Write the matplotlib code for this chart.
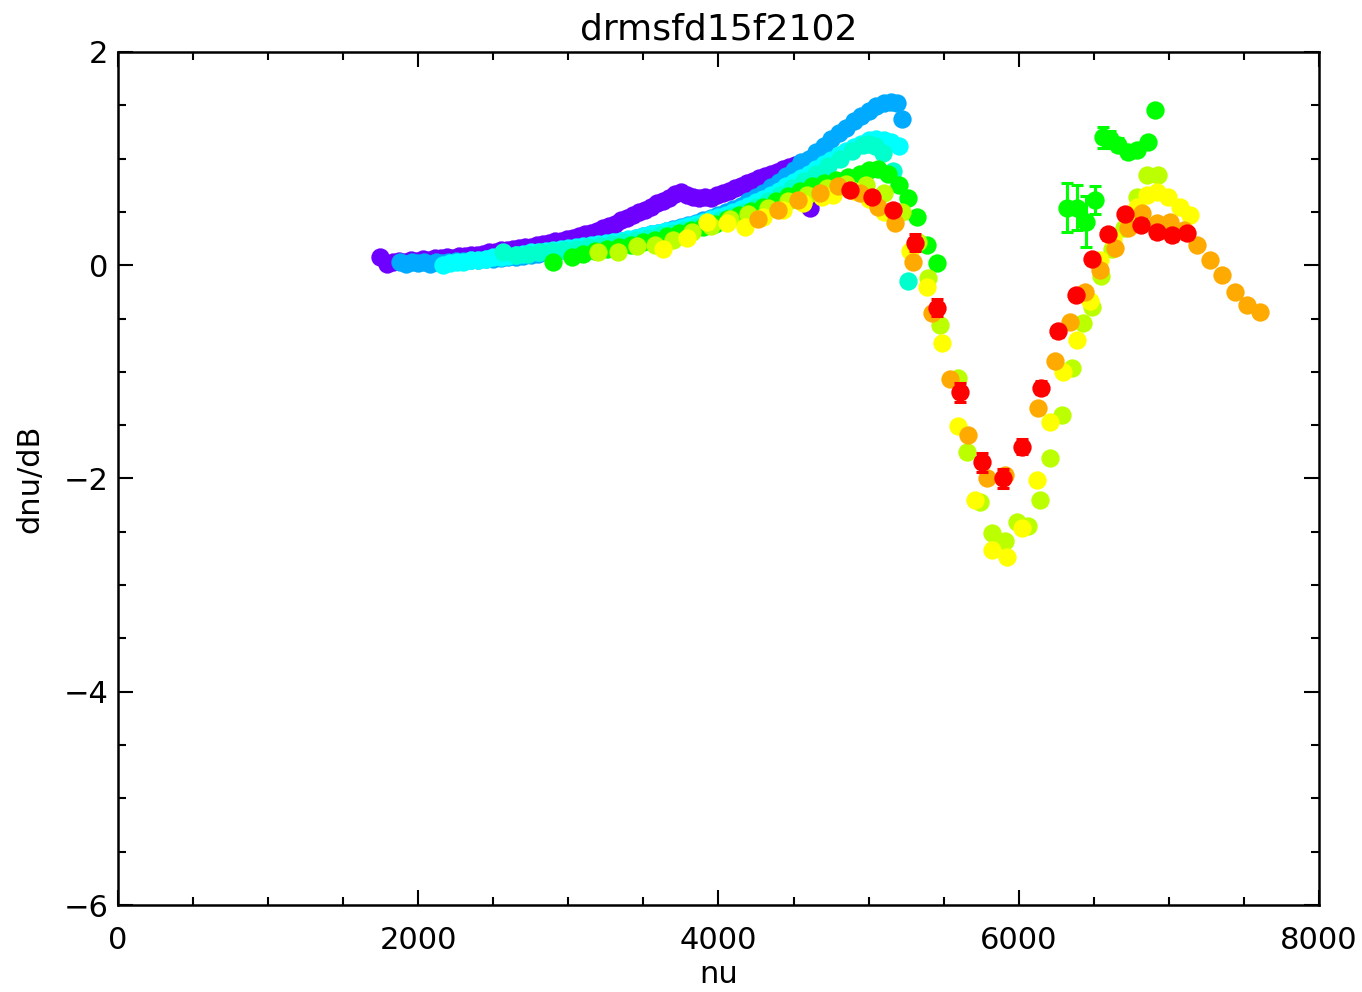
import numpy as np
import matplotlib
matplotlib.use('Agg')
import matplotlib.pyplot as plt
from matplotlib.ticker import MultipleLocator

# frequency shift per unit dB, one series per colour index
purple_nu = [1745, 1790, 1830, 1870, 1910, 1950, 1990, 2030, 2070, 2110, 2150, 2190, 2230, 2270,
             2310, 2350, 2390, 2430, 2470, 2510, 2550, 2590, 2630, 2670, 2710, 2750, 2790, 2830,
             2870, 2910, 2950, 2990, 3030, 3070, 3110, 3150, 3190, 3230, 3270, 3310, 3350, 3390,
             3430, 3470, 3510, 3550, 3590, 3630, 3670, 3710, 3750, 3790, 3830, 3870, 3910, 3950,
             3990, 4030, 4070, 4110, 4150, 4190, 4230, 4270, 4310, 4350, 4390, 4430, 4470, 4510,
             4550, 4590, 4630, 4610]
purple_y = [0.08, 0.01, 0.03, 0.04, 0.03, 0.05, 0.04, 0.06, 0.05, 0.07, 0.07, 0.08, 0.07, 0.09,
            0.09, 0.10, 0.10, 0.11, 0.12, 0.12, 0.14, 0.14, 0.15, 0.16, 0.17, 0.17, 0.19, 0.20,
            0.21, 0.23, 0.23, 0.25, 0.26, 0.27, 0.29, 0.30, 0.32, 0.35, 0.37, 0.39, 0.42, 0.44,
            0.47, 0.50, 0.52, 0.55, 0.58, 0.60, 0.63, 0.67, 0.69, 0.66, 0.64, 0.63, 0.64, 0.63,
            0.66, 0.68, 0.70, 0.72, 0.74, 0.77, 0.79, 0.82, 0.84, 0.86, 0.87, 0.90, 0.92, 0.94,
            0.96, 0.98, 1.00, 0.54]

blue_nu = [1880, 1920, 1960, 2000, 2040, 2080, 2120, 2160, 2200, 2250, 2300, 2350, 2400, 2450,
           2500, 2550, 2600, 2650, 2700, 2750, 2800, 2850, 2900, 2950, 3000, 3050, 3100, 3150,
           3200, 3250, 3300, 3350, 3400, 3450, 3500, 3550, 3600, 3650, 3700, 3750, 3800, 3850,
           3900, 3950, 4000, 4050, 4100, 4150, 4200, 4250, 4300, 4350, 4400, 4450, 4500, 4550,
           4600, 4650, 4700, 4750, 4800, 4850, 4900, 4950, 5000, 5050, 5100, 5150, 5190, 5225]
blue_y = [0.03, 0.01, 0.03, 0.02, 0.03, 0.01, 0.03, 0.02, 0.03, 0.04, 0.04, 0.05, 0.05, 0.06,
          0.06, 0.07, 0.08, 0.08, 0.09, 0.10, 0.11, 0.12, 0.13, 0.14, 0.15, 0.16, 0.17, 0.18,
          0.19, 0.20, 0.22, 0.23, 0.24, 0.26, 0.27, 0.29, 0.30, 0.32, 0.34, 0.36, 0.38, 0.40,
          0.42, 0.44, 0.47, 0.50, 0.53, 0.56, 0.60, 0.64, 0.68, 0.73, 0.78, 0.84, 0.89, 0.97,
          1.00, 1.06, 1.12, 1.18, 1.24, 1.29, 1.35, 1.40, 1.45, 1.49, 1.52, 1.53, 1.52, 1.37]

cyan_nu = [2165, 2210, 2260, 2300, 2350, 2400, 2450, 2500, 2550, 2600, 2650, 2700, 2750, 2800,
           2850, 2900, 2950, 3000, 3050, 3100, 3150, 3200, 3250, 3300, 3350, 3400, 3450, 3500,
           3550, 3600, 3650, 3700, 3750, 3800, 3850, 3900, 3950, 4000, 4050, 4100, 4150, 4200,
           4250, 4300, 4350, 4400, 4450, 4500, 4550, 4600, 4650, 4700, 4750, 4800, 4850, 4900,
           4950, 5000, 5050, 5100, 5150, 5200]
cyan_y = [0.00, 0.02, 0.03, 0.03, 0.05, 0.05, 0.06, 0.08, 0.08, 0.09, 0.10, 0.11, 0.12, 0.12,
          0.13, 0.14, 0.15, 0.16, 0.17, 0.18, 0.19, 0.20, 0.21, 0.22, 0.23, 0.25, 0.26, 0.27,
          0.29, 0.30, 0.32, 0.33, 0.35, 0.37, 0.39, 0.41, 0.43, 0.45, 0.47, 0.50, 0.53, 0.56,
          0.59, 0.62, 0.66, 0.70, 0.74, 0.78, 0.82, 0.86, 0.90, 0.95, 0.99, 1.03, 1.07, 1.11,
          1.14, 1.17, 1.18, 1.17, 1.16, 1.12]

aqua_nu = [2565, 2650, 2730, 2810, 2890, 2970, 3050, 3130, 3210, 3290, 3370, 3450, 3530, 3610,
           3690, 3770, 3850, 3930, 4010, 4090, 4170, 4250, 4330, 4410, 4490, 4570, 4650, 4730,
           4810, 4890, 4960, 5000, 5040, 5096, 5160, 5262]
aqua_y = [0.12, 0.10, 0.11, 0.12, 0.13, 0.14, 0.15, 0.17, 0.18, 0.20, 0.22, 0.24, 0.26, 0.28,
          0.30, 0.33, 0.36, 0.39, 0.42, 0.46, 0.50, 0.55, 0.60, 0.66, 0.72, 0.79, 0.86, 0.93,
          1.00, 1.07, 1.13, 1.14, 1.12, 1.05, 0.88, -0.15]

green_nu = [2898, 3024, 3100, 3180, 3260, 3340, 3420, 3500, 3580, 3660, 3740, 3820, 3900, 3980,
            4060, 4140, 4220, 4300, 4380, 4460, 4540, 4620, 4700, 4780, 4860, 4940, 5000, 5060,
            5130, 5200, 5262, 5322, 5389, 5455,
            6321, 6387, 6447, 6508, 6561, 6608, 6661, 6728, 6788, 6861, 6907]
green_y = [0.03, 0.08, 0.11, 0.13, 0.15, 0.17, 0.19, 0.22, 0.24, 0.27, 0.30, 0.33, 0.36, 0.39,
           0.43, 0.47, 0.51, 0.55, 0.60, 0.65, 0.70, 0.74, 0.77, 0.80, 0.83, 0.86, 0.89, 0.90,
           0.86, 0.75, 0.63, 0.45, 0.19, 0.02,
           0.54, 0.54, 0.41, 0.61, 1.20, 1.18, 1.13, 1.06, 1.08, 1.16, 1.46]
green_err = [0.02] * 34 + [0.23, 0.21, 0.24, 0.13, 0.10, 0.08, 0.06, 0.05, 0.05, 0.04, 0.04]

lime_nu = [3197, 3330, 3457, 3577, 3697, 3823, 3950, 4080, 4200, 4330, 4460, 4590, 4720, 4850,
           4980, 5100, 5220, 5330, 5395, 5475, 5595, 5655, 5742, 5822, 5908, 5988, 6061, 6141,
           6208, 6288, 6355, 6428, 6488, 6550, 6620, 6700, 6788, 6854, 6927]
lime_y = [0.12, 0.12, 0.18, 0.19, 0.24, 0.31, 0.37, 0.43, 0.48, 0.54, 0.60, 0.66, 0.72, 0.76,
          0.75, 0.68, 0.50, 0.22, -0.12, -0.56, -1.06, -1.75, -2.22, -2.51, -2.59, -2.41, -2.45,
          -2.20, -1.81, -1.40, -0.96, -0.54, -0.39, -0.10, 0.15, 0.35, 0.64, 0.85, 0.85]

yellow_nu = [3630, 3790, 3923, 4056, 4176, 4300, 4430, 4560, 4690, 4763, 4900, 5000, 5100, 5275,
             5389, 5489, 5595, 5708, 5822, 5922, 6021, 6121, 6208, 6294, 6388, 6474, 6541, 6630,
             6720, 6790, 6854, 6920, 6994, 7074, 7141]
yellow_y = [0.15, 0.26, 0.41, 0.40, 0.36, 0.45, 0.52, 0.58, 0.64, 0.66, 0.70, 0.62, 0.50, 0.13,
            -0.20, -0.73, -1.51, -2.20, -2.67, -2.74, -2.46, -2.01, -1.47, -1.00, -0.70, -0.34,
            0.05, 0.25, 0.45, 0.55, 0.66, 0.69, 0.64, 0.55, 0.47]

orange_nu = [4263, 4396, 4529, 4676, 4796, 4942, 5062, 5176, 5296, 5422, 5542, 5662, 5789, 5908,
             6128, 6241, 6341, 6441, 6541, 6641, 6728, 6821, 6920, 7007, 7100, 7187, 7274, 7354,
             7440, 7520, 7607]
orange_y = [0.43, 0.52, 0.61, 0.68, 0.74, 0.68, 0.55, 0.40, 0.03, -0.45, -1.07, -1.59, -2.00,
            -1.97, -1.34, -0.90, -0.53, -0.25, -0.04, 0.16, 0.35, 0.49, 0.40, 0.41, 0.33, 0.19,
            0.05, -0.09, -0.25, -0.37, -0.44]

red_nu = [4876, 5022, 5162, 5309, 5455, 5609, 5755, 5895, 6021, 6148, 6261, 6381, 6488, 6594,
          6707, 6814, 6920, 7021, 7121]
red_y = [0.71, 0.64, 0.52, 0.21, -0.40, -1.19, -1.85, -2.00, -1.70, -1.15, -0.62, -0.28, 0.06,
         0.29, 0.48, 0.38, 0.31, 0.28, 0.30]
red_err = [0.05, 0.05, 0.05, 0.08, 0.08, 0.09, 0.09, 0.09, 0.07, 0.06, 0.05, 0.05, 0.05, 0.05,
           0.05, 0.05, 0.05, 0.05, 0.05]

series = [
    (purple_nu, purple_y, None, '#6e00ff'),
    (blue_nu, blue_y, None, '#00aaff'),
    (cyan_nu, cyan_y, None, '#00ffff'),
    (aqua_nu, aqua_y, None, '#00ffcc'),
    (green_nu, green_y, green_err, '#00ff00'),
    (lime_nu, lime_y, None, '#bbff00'),
    (yellow_nu, yellow_y, None, '#ffff00'),
    (orange_nu, orange_y, None, '#ffaa00'),
    (red_nu, red_y, red_err, '#ff0000'),
]

fs = 22
plt.rcParams['font.family'] = ['DejaVu Sans']

fig = plt.figure(figsize=(13.62, 9.92), dpi=100)
ax = fig.add_axes([0.0866, 0.0877, 0.8818, 0.8599])

for nu, y, err, col in series:
    if err is not None:
        ax.errorbar(nu, y, yerr=err, fmt='none', ecolor=col, elinewidth=2.2,
                    capsize=4.5, capthick=2.2)
    ax.plot(nu, y, 'o', color=col, markersize=13.2, markeredgewidth=0, linestyle='none')

ax.set_xlim(0, 8000)
ax.set_ylim(-6, 2)
ax.xaxis.set_major_locator(MultipleLocator(2000))
ax.xaxis.set_minor_locator(MultipleLocator(500))
ax.yaxis.set_major_locator(MultipleLocator(2))
ax.yaxis.set_minor_locator(MultipleLocator(0.5))
ax.tick_params(which='both', direction='in', top=True, right=True, width=1.5, labelsize=fs)
ax.tick_params(which='major', length=11)
ax.tick_params(which='minor', length=5.5)
ax.tick_params(axis='x', pad=15)
ax.tick_params(axis='y', pad=7)
for s in ax.spines.values():
    s.set_linewidth(1.8)

ax.set_title('drmsfd15f2102', fontsize=fs + 4, pad=9)
ax.set_xlabel('nu', fontsize=fs, labelpad=4)
ax.set_ylabel('dnu/dB', fontsize=fs, labelpad=14)

fig.savefig('out.png', dpi=100)
plt.close(fig)
